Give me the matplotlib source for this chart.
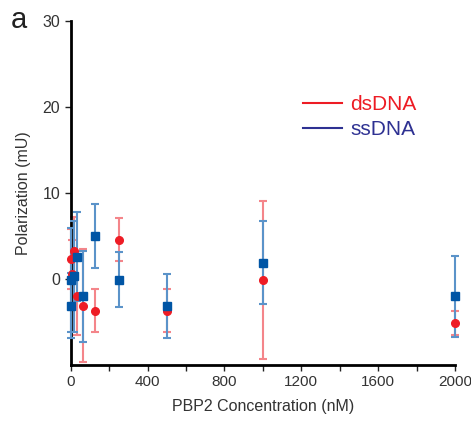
import matplotlib.pyplot as plt
from matplotlib.lines import Line2D
from matplotlib.ticker import MultipleLocator

plt.rcParams['font.family'] = ['Liberation Sans', 'DejaVu Sans']

# dsDNA (red)
ds_conc = [1.95, 7.8, 15.6, 31.25, 62.5, 125, 250, 500, 1000, 2000]
ds_pol = [2.3, 0.6, 3.3, -2.0, -3.1, -3.7, 4.6, -3.7, -0.1, -5.1]
ds_err = [3.5, 4.0, 3.9, 4.5, 6.6, 2.5, 2.5, 2.5, 9.2, 1.4]

# ssDNA (blue)
ss_conc = [1.0, 3.9, 15.6, 31.25, 62.5, 125, 250, 500, 1000, 2000]
ss_pol = [-0.1, -3.1, 0.3, 2.6, -2.0, 5.0, -0.1, -3.1, 1.9, -2.0]
ss_err = [6.0, 3.8, 6.5, 5.2, 5.3, 3.7, 3.2, 3.7, 4.8, 4.7]

red = '#ee1c25'
blue = '#0055a5'

fig = plt.figure(figsize=(4.71, 4.23), dpi=100)
ax = fig.add_axes([0.150, 0.137, 0.816, 0.813])

ax.errorbar(ds_conc, ds_pol, yerr=ds_err, fmt='none', ecolor='#f4858a',
            elinewidth=1.5, capsize=3, capthick=1.5, clip_on=False, zorder=2)
ax.errorbar(ss_conc, ss_pol, yerr=ss_err, fmt='none', ecolor='#5b93c9',
            elinewidth=1.5, capsize=3, capthick=1.5, clip_on=False, zorder=3)
ax.plot(ds_conc, ds_pol, 'o', color=red, ms=5.5, clip_on=False, zorder=4)
ax.plot(ss_conc, ss_pol, 's', color=blue, ms=5.5, clip_on=False, zorder=5)

ax.set_xlim(0, 2000)
ax.set_ylim(-10, 30)
ax.set_yticks([0, 10, 20, 30])
ax.xaxis.set_major_locator(MultipleLocator(400))
ax.xaxis.set_minor_locator(MultipleLocator(200))

for s in ['top', 'right']:
    ax.spines[s].set_visible(False)
for s in ['left', 'bottom']:
    ax.spines[s].set_linewidth(2)

ax.tick_params(which='both', direction='out', color='#222222', labelcolor='#333333',
               labelsize=11.5)
ax.tick_params(axis='x', labelsize=11)
ax.tick_params(which='major', length=4, width=1)
ax.tick_params(which='minor', length=4, width=1)

ax.set_xlabel('PBP2 Concentration (nM)', fontsize=11.5, color='#333333', labelpad=7)
ax.set_ylabel('Polarization (mU)', fontsize=11.5, color='#333333', labelpad=8)

handles = [Line2D([], [], color='#ed1c24', lw=1.5),
           Line2D([], [], color='#2e3192', lw=1.5)]
ax.legend(handles, ['dsDNA', 'ssDNA'], loc='upper left', bbox_to_anchor=(0.555, 0.84),
          frameon=False, fontsize=15, handlelength=1.9, handletextpad=0.4,
          labelspacing=0.3, labelcolor=['#ed1c24', '#2e3192'])

fig.text(0.022, 0.985, 'a', fontsize=21, color='#222222', va='top')

fig.savefig('out.png', dpi=100)
